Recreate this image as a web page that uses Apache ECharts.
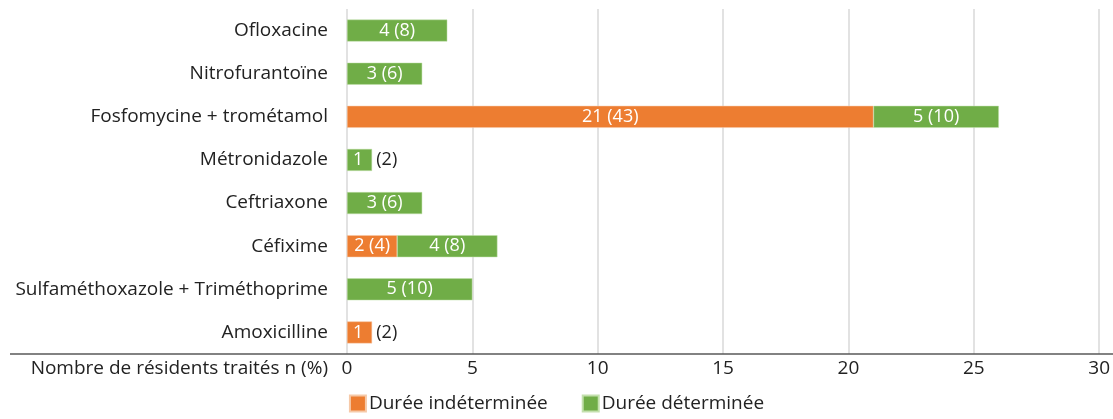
<!DOCTYPE html>
<html>
<head>
<meta charset="utf-8">
<script src="https://cdn.jsdelivr.net/npm/echarts@6/dist/echarts.min.js"></script>
<style>
  html, body { margin: 0; padding: 0; background: #fff; }
  #main { width: 1113px; height: 419px; }
</style>
</head>
<body>
<div id="main"></div>
<script>
// données
var categories = ['Ofloxacine', 'Nitrofurantoïne', 'Fosfomycine + trométamol', 'Métronidazole',
                  'Ceftriaxone', 'Céfixime', 'Sulfaméthoxazole + Triméthoprime', 'Amoxicilline'];
var indetN   = [null, null, 21, null, null, 2, null, 1];
var indetPct = [null, null, 43, null, null, 4, null, 2];
var detN     = [4, 3, 5, 1, 3, 4, 5, null];
var detPct   = [8, 6, 10, 2, 6, 8, 10, null];
var xTicks = [0, 5, 10, 15, 20, 25, 30];

var FONT = '"Open Sans"';
var FS = 19;      // taille des textes d'axe / légende
var FS_BAR = 18;  // étiquettes dans les barres
var myChart = echarts.init(document.getElementById('main'));

function buildData(n, pct) {
    return n.map(function (v, i) {
        if (v == null) return null;
        var item = { value: v, pct: pct[i] };
        if (v <= 1) {
            // petite barre : chiffre dedans, pourcentage à côté
            item.label = {
                position: 'insideLeft',
                offset: [1, 0],
                formatter: '{w|' + v + '}{k|(' + pct[i] + ')}'
            };
        }
        return item;
    });
}

var labelBase = {
    show: true,
    position: 'inside',
    color: '#fff',
    fontFamily: FONT,
    fontSize: FS_BAR,
    formatter: function (p) { return p.value + ' (' + p.data.pct + ')'; },
    rich: {
        w: { color: '#fff', fontFamily: FONT, fontSize: FS_BAR },
        k: { color: '#222', fontFamily: FONT, fontSize: FS_BAR, padding: [0, 0, 0, 13] }
    }
};

var option = {
    animation: false,
    textStyle: { fontFamily: FONT },
    grid: { left: 347, right: 10, top: 9, bottom: 65, containLabel: false },
    legend: {
        bottom: 1,
        left: 'center',
        itemWidth: 16,
        itemHeight: 16,
        itemGap: 34,
        icon: 'rect',
        textStyle: { fontFamily: FONT, fontSize: FS, color: '#222', padding: [0, 0, 0, -2] },
        data: ['Durée indéterminée', 'Durée déterminée']
    },
    xAxis: {
        type: 'value',
        min: xTicks[0],
        max: xTicks[xTicks.length - 1],
        interval: 5,
        name: 'Nombre de résidents traités n (%)',
        nameLocation: 'start',
        nameGap: 19,
        nameTextStyle: { fontFamily: FONT, fontSize: FS, color: '#222', verticalAlign: 'top', padding: [5, 0, 0, 0] },
        axisLine: { show: false },
        axisTick: { show: false },
        axisLabel: { fontFamily: FONT, fontSize: FS, color: '#222', margin: 5 },
        splitLine: { show: true, lineStyle: { color: '#d9d9d9', width: 1.5 } }
    },
    yAxis: {
        type: 'category',
        inverse: true,
        data: categories,
        axisLine: { show: false },
        axisTick: { show: false },
        axisLabel: { fontFamily: FONT, fontSize: FS, color: '#222', margin: 19 }
    },
    graphic: [{
        type: 'line',
        shape: { x1: 10, y1: 354, x2: 1113, y2: 354 },
        style: { stroke: '#595959', lineWidth: 1.5 },
        z: 10
    }],
    series: [
        {
            name: 'Durée indéterminée',
            type: 'bar',
            stack: 'total',
            barWidth: 22,
            itemStyle: { color: '#ED7D31', borderColor: '#f6c9a8', borderWidth: 0.5 },
            label: labelBase,
            data: buildData(indetN, indetPct)
        },
        {
            name: 'Durée déterminée',
            type: 'bar',
            stack: 'total',
            barWidth: 22,
            itemStyle: { color: '#70AD47', borderColor: '#c3e0ad', borderWidth: 0.5 },
            label: labelBase,
            data: buildData(detN, detPct)
        }
    ]
};

myChart.setOption(option);

window.addEventListener('resize', function () {
    myChart.resize();
});
</script>
</body>
</html>
